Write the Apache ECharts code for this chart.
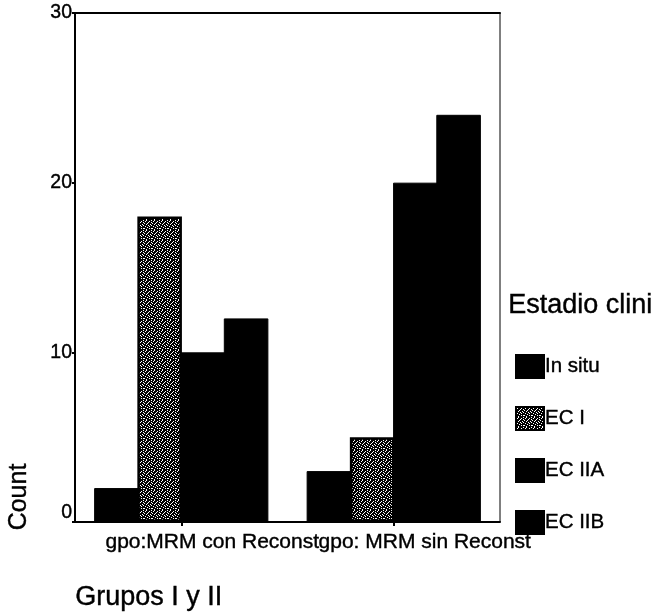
<!DOCTYPE html>
<html>
<head>
<meta charset="utf-8">
<script src="https://cdn.jsdelivr.net/npm/echarts@6/dist/echarts.min.js"></script>
<style>html,body{margin:0;padding:0;background:#fff;}#c{width:654px;height:615px;}</style>
</head>
<body>
<div id="c"></div>
<script>
// ---- data ----
const categories = ['gpo:MRM con Reconst', 'gpo: MRM sin Reconst'];
const seriesNames = ['In situ', 'EC I', 'EC IIA', 'EC IIB'];
const inSitu = [2, 3];
const ecI = [18, 5];
const ecIIA = [10, 20];
const ecIIB = [12, 24];
const yTicks = [0, 10, 20, 30];
const legendTitle = 'Estadio clini';
const yAxisTitle = 'Count';
const xAxisTitle = 'Grupos I y II';

// deterministic speckle texture for "EC I"
function makePattern() {
  const rows = [
    '11011110',
    '10111011',
    '11110110',
    '01101111',
    '11011101',
    '11110110',
    '10111011',
    '11101111',
    '01111010',
    '11011111'
  ];
  const c = document.createElement('canvas');
  c.width = 8; c.height = rows.length;
  const ctx = c.getContext('2d');
  ctx.fillStyle = '#fff';
  ctx.fillRect(0, 0, c.width, c.height);
  ctx.fillStyle = '#000';
  rows.forEach((r, y) => {
    for (let x = 0; x < r.length; x++) if (r[x] === '1') ctx.fillRect(x, y, 1, 1);
  });
  return c;
}
const pattern = { image: makePattern(), repeat: 'repeat' };

const FONT = '"Liberation Sans", Arial, Helvetica, sans-serif';
const values = [inSitu, ecI, ecIIA, ecIIB];
const fills = ['#000', pattern, '#000', '#000'];
const thick = { textBorderColor: '#000', textBorderWidth: 0.4 };

const chart = echarts.init(document.getElementById('c'), null, { renderer: 'canvas' });
chart.setOption({
  animation: false,
  backgroundColor: '#fff',
  grid: { left: 75, right: 154, top: 13, bottom: 93, show: true, borderColor: '#000', borderWidth: 1, backgroundColor: 'transparent' },
  xAxis: [{
    type: 'category',
    data: categories,
    axisLine: { lineStyle: { color: '#000', width: 2 } },
    axisTick: { show: true, alignWithLabel: true, length: 4, lineStyle: { color: '#000', width: 2 } },
    axisLabel: Object.assign({ interval: 0, color: '#000', fontFamily: FONT, fontSize: 21, margin: 10, padding: [0, 0, 0, 62] }, thick),
    splitLine: { show: false }
  }, {
    type: 'category',
    data: categories,
    position: 'top',
    axisLine: { lineStyle: { color: '#000', width: 2 } },
    axisTick: { show: false },
    axisLabel: { show: false },
    splitLine: { show: false }
  }],
  yAxis: {
    type: 'value',
    min: 0, max: 30, interval: 10,
    axisLine: { show: true, lineStyle: { color: '#000', width: 2 } },
    axisTick: { show: true, length: 3, lineStyle: { color: '#000', width: 2 } },
    axisLabel: Object.assign({ color: '#000', fontFamily: FONT, fontSize: 19.5, margin: 3,
      formatter: v => (yTicks.indexOf(v) < 0 ? '' : (v === 0 ? '{z|0}' : String(v))),
      rich: { z: { fontFamily: FONT, fontSize: 19.5, color: '#000', padding: [0, 0, 18, 0], textBorderColor: '#000', textBorderWidth: 0.4 } } }, thick),
    splitLine: { show: false }
  },
  legend: {
    orient: 'vertical',
    left: 510, top: 349,
    itemWidth: 28, itemHeight: 23, itemGap: 27,
    icon: 'rect',
    data: seriesNames,
    textStyle: Object.assign({ color: '#000', fontFamily: FONT, fontSize: 20.5, padding: [0, 0, 0, -4] }, thick),
    selectedMode: false
  },
  graphic: [
    { type: 'text', left: 508, top: 292, style: { text: legendTitle, fill: '#000', font: '27px ' + FONT, stroke: '#000', lineWidth: 0.4 } },
    { type: 'text', x: 19, y: 497, rotation: Math.PI / 2,
      style: { text: yAxisTitle, fill: '#000', font: '25px ' + FONT, align: 'center', verticalAlign: 'middle', stroke: '#000', lineWidth: 0.4 } },
    { type: 'text', left: 75, top: 584, style: { text: xAxisTitle, fill: '#000', font: '27px ' + FONT, stroke: '#000', lineWidth: 0.4 } }
  ],
  series: seriesNames.map((name, i) => ({
    name: name,
    type: 'bar',
    data: values[i],
    barGap: '-3%',
    barCategoryGap: '18%',
    z: i === 1 ? 3 : 2,
    itemStyle: { color: fills[i], borderColor: '#000', borderWidth: i === 1 ? 2.5 : 1 },
    emphasis: { disabled: true }
  }))
});
</script>
</body>
</html>
